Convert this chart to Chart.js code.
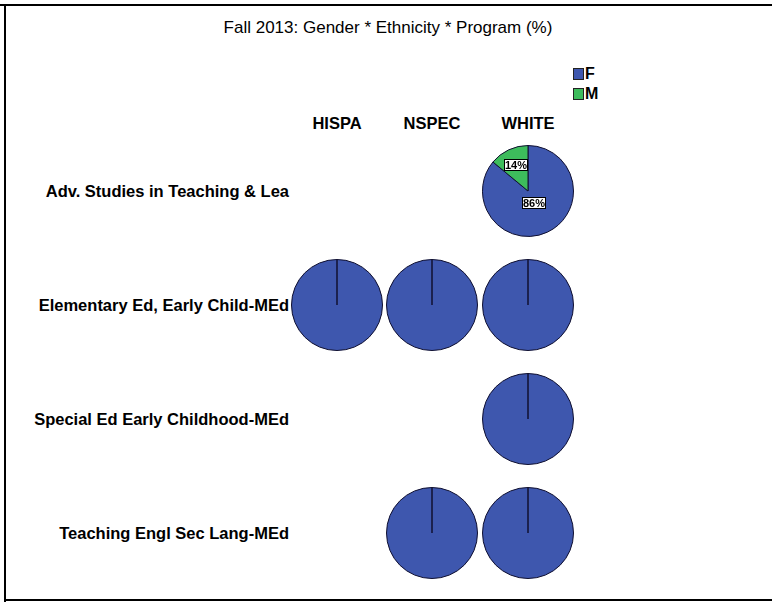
<!DOCTYPE html>
<html>
<head>
<meta charset="utf-8">
<script src="https://cdn.jsdelivr.net/npm/chart.js@4"></script>
<style>
  html, body { margin: 0; background: #fff; overflow: hidden; }
  body { position: relative; height: 605px; font-family: "Liberation Sans", Arial, sans-serif; }
  .line { position: absolute; background: #000; }
  .txt { position: absolute; white-space: nowrap; color: #000; }
  #title { left: 0; width: 776px; top: 18px; text-align: center; font-size: 17px; transform: scaleX(1.0); }
  .col { font-weight: bold; font-size: 16.5px; top: 114px; width: 100px; text-align: center; }
  .row { font-weight: bold; font-size: 16.5px; left: 0; width: 289px; text-align: right; }
  .leg { font-weight: bold; font-size: 16px; }
  .sw { position: absolute; width: 11px; height: 12px; border: 1px solid #222; box-sizing: border-box; }
  canvas { position: absolute; }
</style>
</head>
<body>
<div class="line" style="left:0;top:4px;width:100%;height:2px"></div>
<div class="line" style="left:4px;top:4px;width:2px;height:598px"></div>
<div class="line" style="left:4px;top:599px;width:100%;height:2px"></div>
<div id="title" class="txt"></div>
<div id="labels"></div>
<div id="pies"></div>
<script>
// data
const titleText = "Fall 2013: Gender * Ethnicity * Program (%)";
const programs = [
  "Adv. Studies in Teaching & Lea",
  "Elementary Ed, Early Child-MEd",
  "Special Ed Early Childhood-MEd",
  "Teaching Engl Sec Lang-MEd"
];
const ethnicities = ["HISPA", "NSPEC", "WHITE"];
const genders = ["F", "M"];
// percent per program (rows) x ethnicity (cols); null = no students
const femalePct = [
  [null, null, 86],
  [100, 100, 100],
  [null, null, 100],
  [null, 100, 100]
];
const malePct = [
  [null, null, 14],
  [0, 0, 0],
  [null, null, 0],
  [null, 0, 0]
];

// layout / style
const colX = [337, 432, 528];
const rowY = [191, 305, 419, 533];
const R = 45;
const colors = ["#3e57ae", "#3dbc5c"];
const labelRadius = [0.3, 0.62];

document.getElementById("title").textContent = titleText;
const labelsEl = document.getElementById("labels");

ethnicities.forEach((e, i) => {
  const d = document.createElement("div");
  d.className = "txt col";
  d.style.left = (colX[i] - 50) + "px";
  d.textContent = e;
  labelsEl.appendChild(d);
});
programs.forEach((p, j) => {
  const d = document.createElement("div");
  d.className = "txt row";
  d.style.top = (rowY[j] - 9) + "px";
  d.textContent = p;
  labelsEl.appendChild(d);
});
// legend
genders.forEach((g, k) => {
  const sw = document.createElement("div");
  sw.className = "sw";
  sw.style.left = "573px";
  sw.style.top = (68 + k * 20) + "px";
  sw.style.background = colors[k];
  labelsEl.appendChild(sw);
  const t = document.createElement("div");
  t.className = "txt leg";
  t.style.left = "585px";
  t.style.top = (65 + k * 20) + "px";
  t.textContent = g;
  labelsEl.appendChild(t);
});

// percent labels in white boxes, placed from the arc geometry
const pctLabels = {
  id: "pctLabels",
  afterDatasetsDraw(chart) {
    const ds = chart.data.datasets[0];
    const nonZero = ds.data.filter(v => v > 0).length;
    if (nonZero < 2) return;
    const ctx = chart.ctx;
    ctx.save();
    ctx.font = "bold 11px 'Liberation Sans', Arial";
    ctx.textAlign = "center";
    ctx.textBaseline = "middle";
    chart.getDatasetMeta(0).data.forEach((arc, i) => {
      const p = arc.getProps(["x", "y", "startAngle", "endAngle", "outerRadius"], true);
      const mid = (p.startAngle + p.endAngle) / 2;
      const r = p.outerRadius * labelRadius[i];
      const x = p.x + Math.cos(mid) * r;
      const y = p.y + Math.sin(mid) * r;
      const txt = ds.data[i] + "%";
      const w = 24, h = 12;
      const bx = Math.round(x - w / 2), by = Math.round(y - h / 2);
      ctx.fillStyle = "#fff";
      ctx.fillRect(bx, by, w, h);
      ctx.strokeStyle = "#000";
      ctx.lineWidth = 1;
      ctx.strokeRect(bx + 0.5, by + 0.5, w - 1, h - 1);
      ctx.fillStyle = "#000";
      ctx.fillText(txt, bx + w / 2, by + h / 2 + 0.5);
    });
    ctx.restore();
  }
};

const piesEl = document.getElementById("pies");
programs.forEach((p, j) => {
  ethnicities.forEach((e, i) => {
    if (femalePct[j][i] === null) return;
    const size = 2 * R + 2;
    const c = document.createElement("canvas");
    c.width = size; c.height = size;
    c.style.width = size + "px"; c.style.height = size + "px";
    c.style.left = (colX[i] - size / 2) + "px";
    c.style.top = (rowY[j] - size / 2) + "px";
    piesEl.appendChild(c);
    new Chart(c.getContext("2d"), {
      type: "pie",
      data: {
        labels: genders,
        datasets: [{
          data: [femalePct[j][i], malePct[j][i]],
          backgroundColor: colors,
          borderColor: "#101030",
          borderWidth: 1
        }]
      },
      options: {
        responsive: false,
        animation: false,
        layout: { padding: 0 },
        plugins: { legend: { display: false }, tooltip: { enabled: false } }
      },
      plugins: [pctLabels]
    });
  });
});
</script>
</body>
</html>
